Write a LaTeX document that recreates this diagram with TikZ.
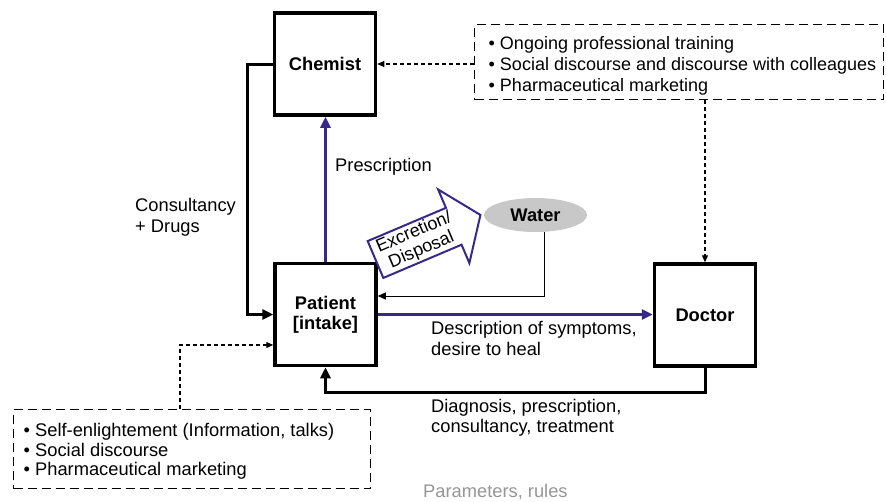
\documentclass[tikz,border=0pt]{standalone}
\usepackage{fontspec}
\setmainfont{Liberation Sans}
\usetikzlibrary{arrows.meta,shapes.geometric}
\definecolor{rxpurple}{RGB}{56,40,136}
\definecolor{watergrey}{RGB}{200,200,200}
\definecolor{paramgrey}{RGB}{150,150,150}
\begin{document}
\begin{tikzpicture}[x=1pt,y=-1pt,
  txt/.style={font=\fontsize{18.3}{20.5}\selectfont, inner sep=0pt},
  actor/.style={draw, line width=3.5pt, minimum width=101pt, minimum height=102pt,
    font=\fontsize{18.3}{20}\selectfont\bfseries, align=center, inner sep=0pt},
  infobox/.style={draw, line width=1.6pt, dash pattern=on 9pt off 5pt},
  flow/.style={line width=3pt, -{Triangle[length=11pt,width=10pt]}},
  rxflow/.style={flow, draw=rxpurple},
  dflow/.style={line width=1.1pt, dash pattern=on 4pt off 3pt, -{Triangle[length=7pt,width=6pt]}},
  thinflow/.style={line width=1pt, -{Triangle[length=8pt,width=7pt]}}
]
\useasboundingbox (0,0) rectangle (886,501);

% actors
\node[actor] (chemist) at (325,64) {Chemist};
\node[actor] (patient) at (325.5,314.5) {Patient\\{[intake]}};
\node[actor] (doctor) at (705,315) {Doctor};
\node[ellipse, fill=watergrey, minimum width=103pt, minimum height=34pt, inner sep=0pt,
  font=\fontsize{18.3}{20}\selectfont\bfseries] (water) at (535.5,215) {Water};

% info boxes
\node[infobox, minimum width=409pt, minimum height=75pt] (trbox) at (679,62) {};
\node[txt, anchor=west, align=left, font=\fontsize{18}{21}\selectfont] (trtext) at (488.5,66)
  {• Ongoing professional training\\• Social discourse and discourse with colleagues\\• Pharmaceutical marketing};
\node[infobox, minimum width=357pt, minimum height=79pt] (llbox) at (192,449) {};
\node[txt, anchor=west, align=left, font=\fontsize{18.3}{19.5}\selectfont] (lltext) at (23.5,451.5)
  {• Self-enlightement (Information, talks)\\• Social discourse\\• Pharmaceutical marketing};

% excretion arrow
\begin{scope}[shift={(375.5,259.5)}, rotate=23]
  \draw[rxpurple, line width=2pt, fill=white, line join=miter]
    (0,-20) -- (85,-20) -- (85,-40) -- (114,0) -- (85,40) -- (85,20) -- (0,20) -- cycle;
  \node[txt, rotate=23, align=center, font=\fontsize{18}{19}\selectfont] (excr) at (46,0) {Excretion/\\Disposal};
\end{scope}

% connectors
\draw[flow] (chemist.west) -- ++(-25,0) |- (patient.west);
\draw[flow] (doctor.south) -- ++(0,25) -| (patient.south);
\draw[rxflow] (patient.north) -- (patient.north |- chemist.south);
\draw[rxflow] (patient.east) -- (patient.east -| doctor.west);
\draw[thinflow] ([xshift=8.5pt]water.south) |- ([yshift=18.5pt]patient.east);
\draw[dflow] (trbox.west |- chemist.east) -- (chemist.east);
\draw[dflow] (trbox.south -| doctor.north) -- (doctor.north);
\draw[dflow] ([xshift=-12pt]llbox.north) |- ([yshift=-30.5pt]patient.west);

% labels
\node[txt, anchor=base west] (presclbl) at (335,171.5) {Prescription};
\node[txt, anchor=west, align=left] (conslbl) at (135,217.5) {Consultancy\\+ Drugs};
\node[txt, anchor=west, align=left] (desclbl) at (431,338.5) {Description of symptoms,\\desire to heal};
\node[txt, anchor=west, align=left] (diaglbl) at (431,418) {Diagnosis, prescription,\\consultancy, treatment};
\node[txt, anchor=base west, text=paramgrey] (paramlbl) at (423,497.5) {Parameters, rules};
\end{tikzpicture}
\end{document}
